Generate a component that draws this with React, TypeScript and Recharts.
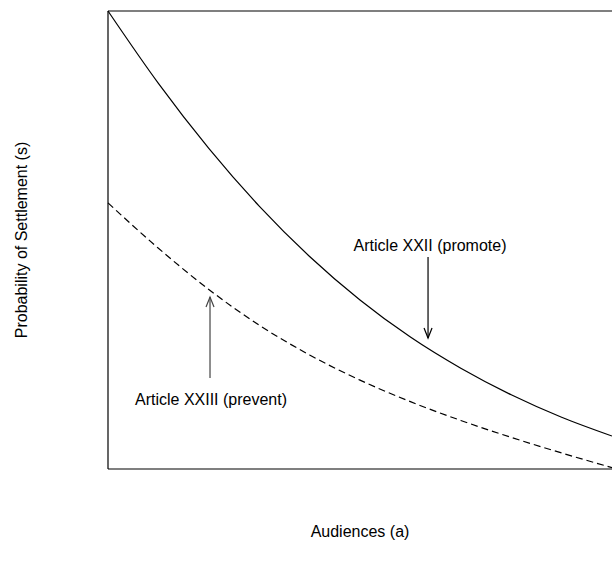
import React from 'react'
import {
  Line,
  LineChart,
  ReferenceDot,
  ReferenceLine,
  XAxis,
  YAxis,
} from 'recharts'

// audiences (a), scaled 0..1 across the plot
const audience = [0, 0.1, 0.2, 0.3, 0.4, 0.5, 0.6, 0.7, 0.8, 0.9, 1.0]
// probability of settlement (s)
const promote = [1.0, 0.842, 0.7, 0.574, 0.464, 0.369, 0.288, 0.22, 0.162, 0.113, 0.072]
const prevent = [0.581, 0.482, 0.392, 0.314, 0.249, 0.194, 0.147, 0.106, 0.069, 0.035, 0.003]

// annotations: [x, tailY, tipY] and [x, y] of the label centre
const promoteArrow = [0.635, 0.463, 0.286]
const promoteNote = [0.639, 0.487]
const preventArrow = [0.2024, 0.1987, 0.3755]
const preventNote = [0.2044, 0.1507]

const rows = audience.map((a, i) => ({ a, promote: promote[i], prevent: prevent[i] }))

const FONT = '"Liberation Sans", Arial, sans-serif'
const FS = 16

function arrowShape(color: string) {
  return (props: any) => {
    const { x1, y1, x2, y2 } = props
    const dx = x2 - x1
    const dy = y2 - y1
    const len = Math.hypot(dx, dy) || 1
    const ux = dx / len
    const uy = dy / len
    const back = 10
    const side = 4
    const bx = x2 - ux * back
    const by = y2 - uy * back
    const px = -uy * side
    const py = ux * side
    return (
      <g>
        <line x1={x1} y1={y1} x2={x2} y2={y2} stroke={color} strokeWidth={1.2} />
        <path
          d={`M${bx + px},${by + py} L${x2},${y2} L${bx - px},${by - py}`}
          fill="none"
          stroke={color}
          strokeWidth={1.2}
        />
      </g>
    )
  }
}

function XTitle(props: any) {
  const vb = props.viewBox || { x: 108, y: 469, width: 504, height: 0 }
  return (
    <text
      x={vb.x + vb.width / 2}
      y={vb.y + 62}
      textAnchor="middle"
      dominantBaseline="central"
      fontFamily={FONT}
      fontSize={FS}
      fill="#000"
    >
      Audiences (a)
    </text>
  )
}

function YTitle(props: any) {
  const vb = props.viewBox || { x: 108, y: 11, width: 0, height: 458 }
  const cx = vb.x - 87
  const cy = vb.y + vb.height / 2
  return (
    <text
      x={cx}
      y={cy}
      transform={`rotate(-90, ${cx}, ${cy})`}
      textAnchor="middle"
      dominantBaseline="central"
      fontFamily={FONT}
      fontSize={FS}
      fill="#000"
    >
      Probability of Settlement (s)
    </text>
  )
}

function Note(props: any) {
  const { viewBox, value } = props
  const x = viewBox ? viewBox.cx ?? viewBox.x : 0
  const y = viewBox ? viewBox.cy ?? viewBox.y : 0
  return (
    <text
      x={x}
      y={y}
      textAnchor="middle"
      dominantBaseline="central"
      fontFamily={FONT}
      fontSize={FS}
      fill="#000"
    >
      {value}
    </text>
  )
}

export default function App() {
  // pinned to the window corner, so the page margin and scrollbars play no part
  return (
    <div
      style={{
        position: 'fixed',
        left: 0,
        top: 0,
        width: 612,
        height: 570,
        overflow: 'hidden',
        background: '#fff',
      }}
    >
      <LineChart
        width={612}
        height={570}
        data={rows}
        margin={{ top: 11, right: 0, bottom: 101, left: 108 }}
      >
        <XAxis dataKey="a" type="number" domain={[0, 1]} hide />
        <YAxis type="number" domain={[0, 1]} hide />
        <ReferenceLine y={1} stroke="#000" strokeWidth={1.2} />
        <ReferenceLine
          y={0}
          stroke="#000"
          strokeWidth={1.2}
          label={<XTitle />}
        />
        <ReferenceLine
          x={0}
          stroke="#000"
          strokeWidth={1.2}
          label={<YTitle />}
        />
        <Line
          type="monotone"
          dataKey="promote"
          stroke="#000"
          strokeWidth={1.2}
          dot={false}
          isAnimationActive={false}
        />
        <Line
          type="monotone"
          dataKey="prevent"
          stroke="#000"
          strokeWidth={1.2}
          strokeDasharray="7 4"
          dot={false}
          isAnimationActive={false}
        />
        <ReferenceLine
          segment={[
            { x: promoteArrow[0], y: promoteArrow[1] },
            { x: promoteArrow[0], y: promoteArrow[2] },
          ]}
          shape={arrowShape('#000')}
        />
        <ReferenceLine
          segment={[
            { x: preventArrow[0], y: preventArrow[1] },
            { x: preventArrow[0], y: preventArrow[2] },
          ]}
          shape={arrowShape('#444')}
        />
        <ReferenceDot
          x={promoteNote[0]}
          y={promoteNote[1]}
          r={0}
          fill="none"
          stroke="none"
          label={<Note value="Article XXII (promote)" />}
        />
        <ReferenceDot
          x={preventNote[0]}
          y={preventNote[1]}
          r={0}
          fill="none"
          stroke="none"
          label={<Note value="Article XXIII (prevent)" />}
        />
      </LineChart>
    </div>
  )
}
